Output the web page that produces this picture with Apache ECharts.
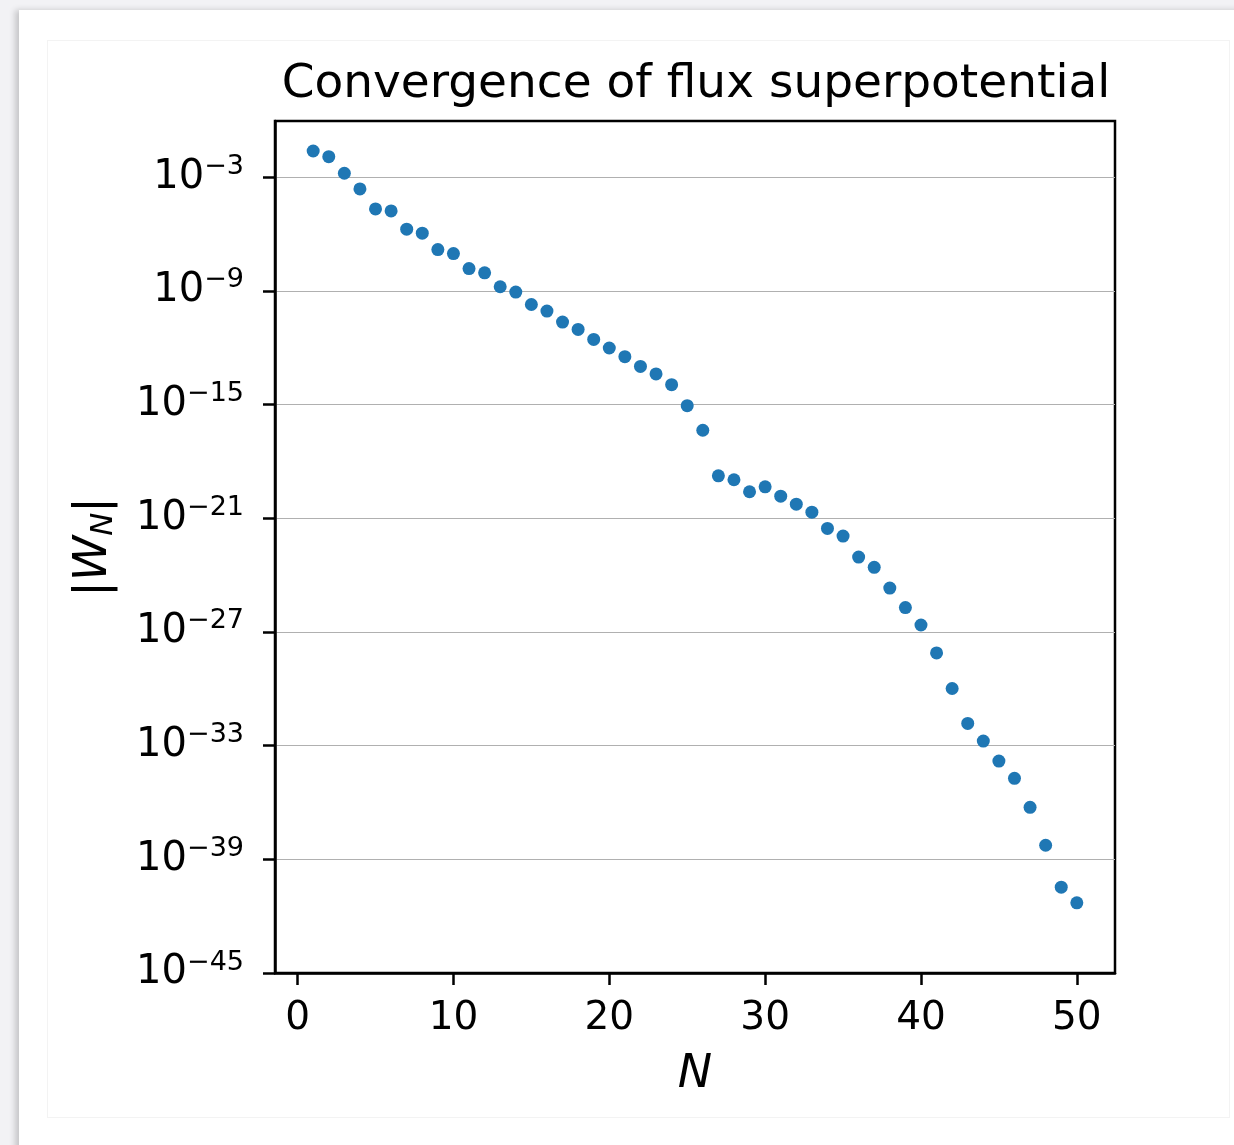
<!DOCTYPE html>
<html><head><meta charset="utf-8">
<script src="https://cdn.jsdelivr.net/npm/echarts@6/dist/echarts.min.js"></script>
<style>
html,body{margin:0;padding:0;width:1234px;height:1145px;overflow:hidden;background:#f2f2f5;}
#card{position:absolute;left:19px;top:10px;width:1240px;height:1160px;background:#fff;box-shadow:-4px 0 6px rgba(0,0,0,0.18);}
#inner{position:absolute;left:47px;top:40px;width:1183px;height:1078px;border:1px solid #f3f3f3;box-sizing:border-box;}
#chart{position:absolute;left:0;top:0;width:1234px;height:1145px;}
</style></head>
<body><div id="card"></div><div id="inner"></div><div id="chart"></div>
<script>
const N = [1,2,3,4,5,6,7,8,9,10,11,12,13,14,15,16,17,18,19,20,21,22,23,24,25,26,27,28,29,30,31,32,33,34,35,36,37,38,39,40,41,42,43,44,45,46,47,48,49,50];
const W = [2.43e-2,1.22e-2,1.63e-3,2.42e-4,2.13e-5,1.67e-5,1.82e-6,1.12e-6,1.53e-7,9.42e-8,
           1.52e-8,9.06e-9,1.66e-9,8.69e-10,1.93e-10,8.67e-11,2.28e-11,9.29e-12,2.76e-12,9.73e-13,
           3.39e-13,1.04e-13,4.15e-14,1.13e-14,8.85e-16,4.43e-17,1.75e-19,1.08e-19,2.51e-20,4.60e-20,
           1.47e-20,5.57e-21,2.11e-21,2.92e-22,1.15e-22,8.97e-24,2.57e-24,2.08e-25,1.93e-26,2.34e-27,
           7.82e-29,1.04e-30,1.49e-32,1.74e-33,1.53e-34,1.88e-35,5.57e-37,5.53e-39,3.39e-41,5.04e-42];
const xTicks = [0,10,20,30,40,50];
const yTickExponents = [-45,-39,-33,-27,-21,-15,-9,-3];
const titleText = 'Convergence of flux superpotential';

const FONT = "'DejaVu Sans', sans-serif";
const yTicks = yTickExponents.map(e => Math.pow(10, e));
const chart = echarts.init(document.getElementById('chart'), null, {renderer: 'canvas'});
chart.setOption({
  animation: false,
  title: {
    text: titleText, left: 691, top: 56, textAlign: 'center',
    textStyle: {fontFamily: FONT, fontSize: 47, fontWeight: 'normal', color: '#000'}
  },
  grid: {left: 275, top: 121, right: 119, bottom: 172, show: true, borderColor: '#000', borderWidth: 2.5, backgroundColor: 'transparent'},
  xAxis: {
    type: 'value', min: -1.45, max: 52.45,
    name: 'N', nameLocation: 'middle', nameGap: 79,
    nameTextStyle: {fontFamily: FONT, fontSize: 46, fontStyle: 'italic', color: '#000'},
    axisLine: {show: true, onZero: false, lineStyle: {color: '#000', width: 2.5}},
    axisTick: {show: true, inside: false, length: 12, lineStyle: {color: '#000', width: 2.5}, customValues: xTicks},
    axisLabel: {customValues: xTicks, fontFamily: FONT, fontSize: 39, color: '#000', margin: 26},
    splitLine: {show: false}
  },
  yAxis: {
    type: 'log', logBase: 10, min: 1e-45, max: Math.pow(10, -0.03),
    name: '{b||}{w|W}{s|N}{b||}', nameLocation: 'middle', nameGap: 156, nameRotate: 90,
    nameTextStyle: {
      color: '#000',
      rich: {
        b: {fontFamily: FONT, fontSize: 46, lineHeight: 50, color: '#000'},
        w: {fontFamily: FONT, fontSize: 46, lineHeight: 50, fontStyle: 'italic', color: '#000'},
        s: {fontFamily: FONT, fontSize: 31, lineHeight: 32, fontStyle: 'italic', verticalAlign: 'bottom', color: '#000'}
      }
    },
    axisLine: {show: true, onZero: false, lineStyle: {color: '#000', width: 2.5}},
    axisTick: {show: true, inside: false, length: 12, lineStyle: {color: '#000', width: 2.5}, customValues: yTicks},
    axisLabel: {
      customValues: yTicks, margin: 31,
      formatter: function (v) {
        const e = Math.round(Math.log10(v));
        return '{b|10}{s|' + (e < 0 ? '\u2212' + (-e) : String(e)) + '}';
      },
      rich: {
        b: {fontFamily: FONT, fontSize: 40, lineHeight: 48, color: '#000'},
        s: {fontFamily: FONT, fontSize: 27, lineHeight: 27, verticalAlign: 'top', color: '#000'}
      }
    },
    splitLine: {show: true, lineStyle: {color: '#b0b0b0', width: 1.2}}
  },
  series: [{
    type: 'scatter', symbol: 'circle', symbolSize: 13,
    itemStyle: {color: '#1f77b4', opacity: 1},
    data: N.map((n, i) => [n, W[i]])
  }]
});
</script>
</body></html>
